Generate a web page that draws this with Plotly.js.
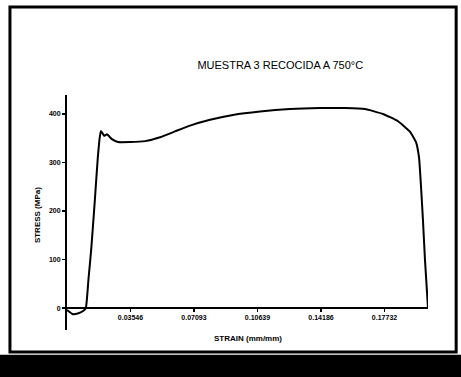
<!DOCTYPE html>
<html>
<head>
<meta charset="utf-8">
<script src="https://cdn.plot.ly/plotly-3.0.1.min.js"></script>
<style>html,body{margin:0;padding:0;background:#fff;}#chart{width:461px;height:377px;}</style>
</head>
<body>
<div id="chart"></div>
<script>
// Strain (mm/mm) and stress (MPa)
var strain = [0.000, 0.003, 0.006, 0.009, 0.0105, 0.012, 0.0135, 0.0155, 0.0172, 0.0184, 0.0190, 0.0207, 0.0223, 0.0251, 0.0285, 0.0352, 0.0436, 0.0520, 0.0603, 0.0687, 0.0799, 0.0927, 0.1078, 0.1245, 0.1413, 0.1553, 0.1664, 0.1765, 0.1849, 0.1916, 0.1949, 0.1966, 0.1977, 0.1988, 0.1999, 0.2011, 0.2016];
var stress = [-4, -12, -11, -6, 0, 60, 120, 220, 310, 355, 365, 355, 358, 348, 342, 342, 344, 352, 364, 376, 388, 398, 405, 410, 412, 412, 410, 400, 385, 363, 342, 310, 250, 180, 100, 30, 0];
var xTickVals = [0.035464, 0.070928, 0.106392, 0.141856, 0.17732];
var xTickText = ["0.03546", "0.07093", "0.10639", "0.14186", "0.17732"];
var yTickVals = [0, 100, 200, 300, 400];
var chartTitle = "MUESTRA 3 RECOCIDA A 750°C";
var xTitle = "STRAIN (mm/mm)";
var yTitle = "STRESS (MPa)";

var trace = {
  x: strain, y: stress, type: 'scatter', mode: 'lines',
  line: {color: '#000', width: 2, shape: 'spline', smoothing: 0.4},
  hoverinfo: 'skip'
};

var layout = {
  width: 461, height: 377,
  margin: {l: 67, r: 33, t: 95, b: 47},
  paper_bgcolor: '#fff', plot_bgcolor: 'rgba(0,0,0,0)',
  showlegend: false,
  font: {family: 'Liberation Sans, Arial, sans-serif', color: '#000'},
  title: {text: chartTitle, x: 0.608, xanchor: 'center', y: 0.828, yanchor: 'middle', yref: 'container', xref: 'container',
          font: {size: 11, color: '#000', family: 'Liberation Sans Narrow, Liberation Sans, Arial, sans-serif'}},
  xaxis: {
    range: [0, 0.2016], anchor: 'free', position: 0.0936,
    showline: true, linecolor: '#000', linewidth: 2,
    showgrid: false, zeroline: false,
    tickmode: 'array', tickvals: xTickVals, ticktext: xTickText,
    ticks: 'outside', ticklen: 3, tickwidth: 1.5, tickcolor: '#000',
    tickfont: {size: 7, color: '#000', family: 'Liberation Sans, Arial, sans-serif', weight: 'bold'}
  },
  yaxis: {
    range: [-45, 439],
    showline: true, linecolor: '#000', linewidth: 2,
    showgrid: false, zeroline: false,
    tickmode: 'array', tickvals: yTickVals,
    ticks: 'outside', ticklen: 3, tickwidth: 1.5, tickcolor: '#000',
    tickfont: {size: 7, color: '#000', family: 'Liberation Sans, Arial, sans-serif', weight: 'bold'}
  },
  annotations: [
    {text: yTitle, xref: 'paper', yref: 'paper', x: -0.083, y: 0.489, textangle: -90,
     showarrow: false, xanchor: 'center', yanchor: 'middle',
     font: {size: 8, color: '#000', family: 'Liberation Sans Narrow, Liberation Sans, Arial, sans-serif', weight: 'bold'}},
    {text: xTitle, xref: 'paper', yref: 'paper', x: 0.501, y: -0.038,
     showarrow: false, xanchor: 'center', yanchor: 'middle',
     font: {size: 8, color: '#000', family: 'Liberation Sans Narrow, Liberation Sans, Arial, sans-serif', weight: 'bold'}}
  ],
  shapes: [
    {type: 'rect', xref: 'paper', yref: 'paper', x0: -0.158, x1: 1.078, y0: -0.094, y1: 1.374,
     line: {color: '#000', width: 3}, fillcolor: 'rgba(0,0,0,0)', layer: 'below'},
    {type: 'rect', xref: 'paper', yref: 'paper', x0: -0.25, x1: 1.3, y0: -0.105, y1: -0.25,
     line: {width: 0}, fillcolor: '#000', layer: 'below'}
  ]
};

Plotly.newPlot('chart', [trace], layout, {displayModeBar: false, staticPlot: true});
</script>
</body>
</html>
